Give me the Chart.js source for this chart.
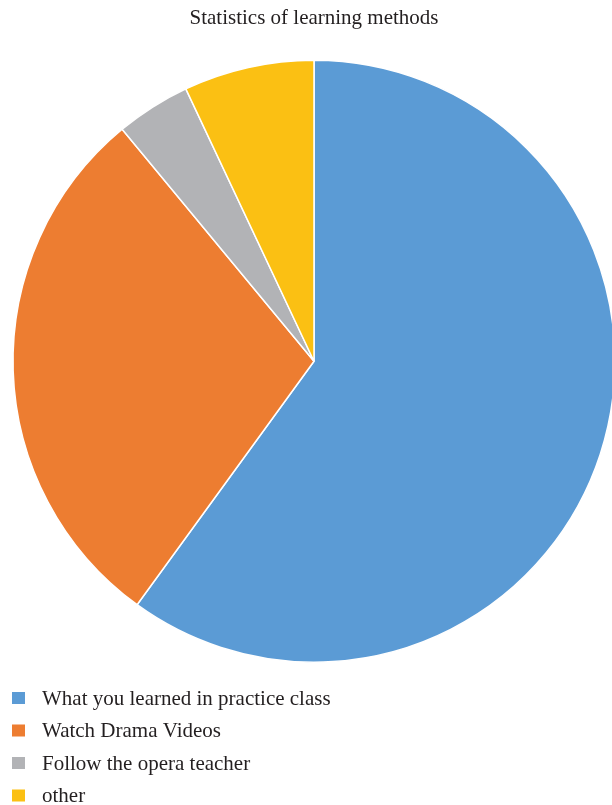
<!DOCTYPE html>
<html>
<head>
<meta charset="utf-8">
<script src="https://cdn.jsdelivr.net/npm/chart.js@4"></script>
<style>
  html, body { margin: 0; padding: 0; background: #fff; }
  #wrap { width: 612px; height: 805px; position: relative; }
</style>
</head>
<body>
<div id="wrap"><canvas id="methodChart"></canvas></div>
<script>
const labels = ['What you learned in practice class', 'Watch Drama Videos', 'Follow the opera teacher', 'other'];
const shares = [60, 29, 4, 7];
const colors = ['#5b9bd5', '#ed7d31', '#b2b3b6', '#fbc013'];

const serif = "'Liberation Serif', 'Times New Roman', serif";

// one legend entry per line, under the pie
const listLegend = {
    id: 'listLegend',
    afterDraw(chart) {
        const c = chart.ctx;
        c.save();
        c.font = '21px ' + serif;
        c.textBaseline = 'middle';
        labels.forEach((label, i) => {
            const y = 698 + i * 32.5;
            c.fillStyle = colors[i];
            c.fillRect(12, y - 6, 13, 12);
            c.fillStyle = '#231f20';
            c.fillText(label, 42, y + 1);
        });
        c.restore();
    }
};

const ctx = document.getElementById('methodChart');

new Chart(ctx, {
    type: 'pie',
    data: {
        labels: labels,
        datasets: [{
            data: shares,
            backgroundColor: colors,
            borderColor: '#fff',
            borderWidth: 1.5,
            radius: 301
        }]
    },
    options: {
        responsive: true,
        maintainAspectRatio: false,
        animation: false,
        layout: {
            padding: { left: 16, right: 0, top: 0, bottom: 119 }
        },
        plugins: {
            title: {
                display: true,
                text: 'Statistics of learning methods',
                color: '#231f20',
                font: { family: serif, size: 21, weight: 'normal' },
                padding: { top: 5.7, bottom: 5.5 }
            },
            legend: { display: false },
            tooltip: { enabled: false }
        }
    },
    plugins: [listLegend]
});
</script>
</body>
</html>
